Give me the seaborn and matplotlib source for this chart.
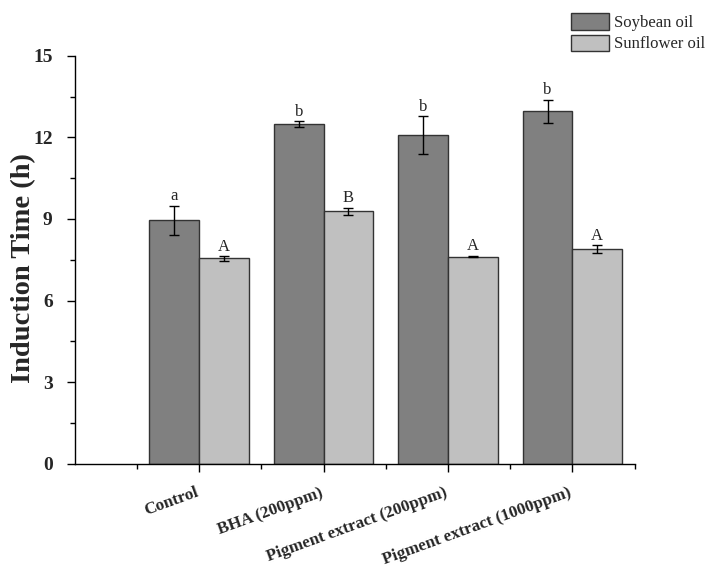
import numpy as np
import pandas as pd
import matplotlib
matplotlib.use("Agg")
import matplotlib.pyplot as plt
import matplotlib.transforms as mtransforms
from matplotlib.patches import Patch
import seaborn as sns

# Valeurs
categories = ["Control", "BHA (200ppm)", "Pigment extract (200ppm)", "Pigment extract (1000ppm)"]
soybean = [8.95, 12.49, 12.07, 12.96]
soybean_err = [0.54, 0.11, 0.70, 0.43]
sunflower = [7.55, 9.28, 7.62, 7.89]
sunflower_err = [0.08, 0.13, 0.03, 0.14]
soybean_letters = ["a", "b", "b", "b"]
sunflower_letters = ["A", "B", "A", "A"]
oils = ["Soybean oil", "Sunflower oil"]
colors = ["#808080", "#c0c0c0"]

df = pd.DataFrame({
    "treatment": categories * 2,
    "time": soybean + sunflower,
    "oil": [oils[0]] * 4 + [oils[1]] * 4,
})

sns.set_style("ticks")
plt.rcParams["font.family"] = ["Liberation Serif", "DejaVu Serif"]

fig = plt.figure(figsize=(7.13, 5.67), dpi=100)
ax = fig.add_axes([0.105, 0.1817, 0.785, 0.7201])

sns.barplot(data=df, x="treatment", y="time", hue="oil", palette=colors,
            width=0.8, edgecolor="#333333", linewidth=1, errorbar=None,
            legend=False, ax=ax)

# Barres d'erreur et lettres
for cont, errs, letters in zip(ax.containers, [soybean_err, sunflower_err],
                               [soybean_letters, sunflower_letters]):
    xs = [b.get_x() + b.get_width() / 2 for b in cont]
    hs = [b.get_height() for b in cont]
    ax.errorbar(xs, hs, yerr=errs, fmt="none", ecolor="black",
                elinewidth=1, capsize=3.5, capthick=1)
    for x, h, e, lab in zip(xs, hs, errs, letters):
        ax.text(x, h + e + 0.2, lab, ha="center", va="baseline", fontsize=12)

ax.set_xlim(-1, 3.5)
ax.set_ylim(0, 15)
ax.set_yticks(np.arange(0, 16, 3))
ax.set_yticks(np.arange(0, 15.1, 1.5), minor=True)
ax.set_xticks(np.arange(4))
ax.set_xticks(np.arange(-0.5, 3.6, 1), minor=True)
sns.despine(ax=ax)
for s in ["left", "bottom"]:
    ax.spines[s].set_linewidth(1)
    ax.spines[s].set_color("black")

ax.tick_params(axis="both", which="major", direction="out", length=6, width=1, color="black")
ax.tick_params(axis="both", which="minor", direction="out", length=3.5, width=1, color="black")
ax.tick_params(axis="y", which="major", pad=10, labelsize=14)
ax.tick_params(axis="x", which="major", pad=9, labelsize=12.3)

for lab in ax.get_yticklabels():
    lab.set_fontweight("bold")
ax.set_xticks(np.arange(4), categories)
shift = mtransforms.ScaledTranslation(-0.04, 0, fig.dpi_scale_trans)
for lab in ax.get_xticklabels():
    lab.set_fontweight("bold")
    lab.set_rotation(20)
    lab.set_ha("right")
    lab.set_rotation_mode("anchor")
    lab.set_transform(lab.get_transform() + shift)

ax.set_xlabel("")
ax.set_ylabel("Induction Time (h)", fontsize=20.5, fontweight="bold")
ax.yaxis.set_label_coords(-0.069, 0.48)

handles = [Patch(facecolor=c, edgecolor="#333333", linewidth=1) for c in colors]
fig.legend(handles, oils, loc="upper left", bbox_to_anchor=(0.8004, 0.9765),
           frameon=False, fontsize=12, handlelength=2.3, handleheight=1.15,
           handletextpad=0.3, labelspacing=0.2, borderpad=0, borderaxespad=0)

fig.savefig("out.png", dpi=100)
